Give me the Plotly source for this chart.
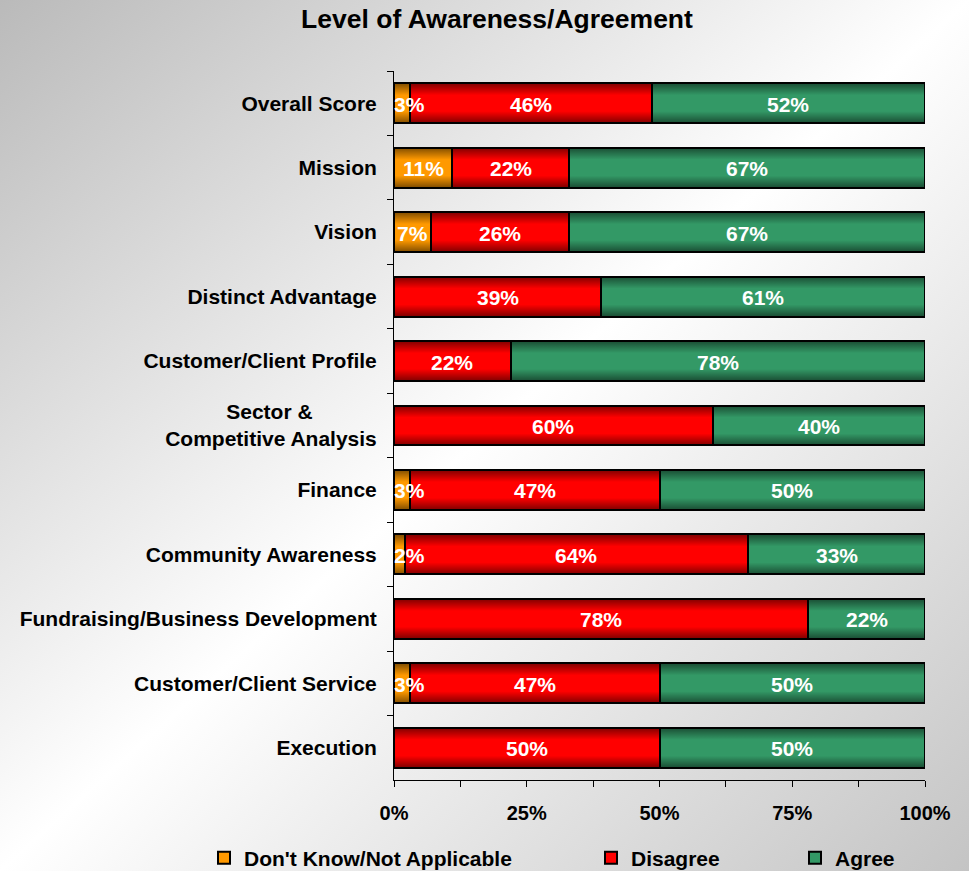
import base64
import plotly.graph_objects as go

# Survey rows, top to bottom
categories = [
    "Overall Score",
    "Mission",
    "Vision",
    "Distinct Advantage",
    "Customer/Client Profile",
    "Sector &" + "\u00a0" * 11 + "<br>Competitive Analysis",
    "Finance",
    "Community Awareness",
    "Fundraising/Business Development",
    "Customer/Client Service",
    "Execution",
]
dont_know = [3, 11, 7, 0, 0, 0, 3, 2, 0, 3, 0]
disagree = [46, 22, 26, 39, 22, 60, 47, 64, 78, 47, 50]
agree = [52, 67, 67, 61, 78, 40, 50, 33, 22, 50, 50]

x_tick_values = [0, 25, 50, 75, 100]
x_tick_labels = ["0%", "25%", "50%", "75%", "100%"]

FONT = "Liberation Sans, Arial, sans-serif"
W, H = 969, 871
ML, MR, MT, MB = 394, 44, 71, 91
PW, PH = W - ML - MR, H - MT - MB
BAR_WIDTH = 0.62
LABEL_SIZE = 21


def svg_uri(svg):
    return "data:image/svg+xml;base64," + base64.b64encode(svg.encode()).decode()


# Diagonal grey-white-grey page background
background = svg_uri(
    f'<svg xmlns="http://www.w3.org/2000/svg" width="{W}" height="{H}" '
    f'viewBox="0 0 {W} {H}" preserveAspectRatio="none"><defs>'
    '<linearGradient id="g" x1="0" y1="0" x2="1" y2="1">'
    '<stop offset="0" stop-color="#bababa"/>'
    '<stop offset="0.5" stop-color="#ffffff"/>'
    '<stop offset="1" stop-color="#c4c4c4"/>'
    f'</linearGradient></defs><rect width="{W}" height="{H}" fill="url(#g)"/></svg>'
)

# Shading that darkens the top and bottom edges of each bar
bar_shade = svg_uri(
    '<svg xmlns="http://www.w3.org/2000/svg" width="100" height="40" '
    'viewBox="0 0 100 40" preserveAspectRatio="none"><defs>'
    '<linearGradient id="s" x1="0" y1="0" x2="0" y2="1">'
    '<stop offset="0" stop-color="#000" stop-opacity="0.5"/>'
    '<stop offset="0.3" stop-color="#000" stop-opacity="0"/>'
    '<stop offset="0.7" stop-color="#000" stop-opacity="0"/>'
    '<stop offset="1" stop-color="#000" stop-opacity="0.5"/>'
    '</linearGradient></defs><rect width="100" height="40" fill="url(#s)"/></svg>'
)

series = [
    ("Don't Know/Not Applicable", dont_know, "#FF9900", "legend"),
    ("Disagree", disagree, "#FF0000", "legend2"),
    ("Agree", agree, "#339966", "legend3"),
]

fig = go.Figure()
for name, values, color, legend in series:
    fig.add_trace(
        go.Bar(
            y=categories,
            x=values,
            name=name,
            orientation="h",
            marker=dict(color=color, line=dict(color="#000000", width=2)),
            hoverinfo="skip",
            legend=legend,
        )
    )

# Segment labels sit above every bar; a label too wide for its segment
# starts at the segment's left edge instead of being centred on it
totals = [a + b + c for a, b, c in zip(dont_know, disagree, agree)]
px_per_pct = PW / 100.0
annotations = []
for row, cat in enumerate(categories):
    start = 0.0
    for _, values, _, _ in series:
        share = 100.0 * values[row] / totals[row]
        if values[row]:
            text = f"{values[row]}%"
            text_px = 0.62 * LABEL_SIZE * len(text)
            narrow = share * px_per_pct < text_px + 4
            annotations.append(
                dict(
                    x=start if narrow else start + share / 2,
                    y=cat,
                    xref="x",
                    yref="y",
                    text=text,
                    showarrow=False,
                    xanchor="left" if narrow else "center",
                    yanchor="middle",
                    xshift=-2 if narrow else 0,
                    yshift=-1,
                    font=dict(family=FONT, size=LABEL_SIZE, color="white", weight="bold"),
                )
            )
        start += share

images = [
    dict(
        source=background,
        xref="paper",
        yref="paper",
        x=-ML / PW,
        y=1 + MT / PH,
        sizex=W / PW,
        sizey=H / PH,
        xanchor="left",
        yanchor="top",
        sizing="stretch",
        layer="below",
    )
]
for cat in categories:
    images.append(
        dict(
            source=bar_shade,
            xref="x",
            yref="y",
            x=0,
            y=cat,
            sizex=100,
            sizey=BAR_WIDTH,
            xanchor="left",
            yanchor="middle",
            sizing="stretch",
            layer="above",
        )
    )

legend_font = dict(family=FONT, size=21, color="black", weight="bold")
legend_common = dict(
    orientation="h",
    xref="container",
    yref="container",
    yanchor="middle",
    y=1 - 858 / H,
    bgcolor="rgba(0,0,0,0)",
    font=legend_font,
    itemclick=False,
    itemdoubleclick=False,
)

fig.update_layout(
    width=W,
    height=H,
    margin=dict(l=ML, r=MR, t=MT, b=MB),
    paper_bgcolor="white",
    plot_bgcolor="rgba(0,0,0,0)",
    barmode="stack",
    barnorm="percent",
    bargap=1 - BAR_WIDTH,
    title=dict(
        text="Level of Awareness/Agreement",
        font=dict(family=FONT, size=26.5, color="black", weight="bold"),
        xref="container",
        x=497 / W,
        xanchor="center",
        yref="container",
        y=1 - 19 / H,
        yanchor="middle",
    ),
    xaxis=dict(
        range=[0, 100],
        tickvals=x_tick_values,
        ticktext=x_tick_labels,
        ticks="outside",
        ticklen=6,
        tickcolor="black",
        minor=dict(dtick=12.5, ticks="outside", ticklen=6, tickcolor="black"),
        showline=True,
        linecolor="black",
        linewidth=1,
        showgrid=False,
        zeroline=False,
        ticklabelstandoff=9,
        tickfont=dict(family=FONT, size=20, color="black", weight="bold"),
    ),
    yaxis=dict(
        type="category",
        categoryorder="array",
        categoryarray=categories,
        range=[len(categories) - 0.5, -0.5],
        tickson="boundaries",
        ticks="outside",
        ticklen=6,
        tickcolor="black",
        showline=True,
        linecolor="black",
        linewidth=1,
        showgrid=False,
        zeroline=False,
        ticklabelstandoff=12,
        tickfont=dict(family=FONT, size=21, color="black", weight="bold"),
    ),
    legend=dict(legend_common, x=(244 - 40) / W, xanchor="left"),
    legend2=dict(legend_common, x=(631 - 40) / W, xanchor="left"),
    legend3=dict(legend_common, x=(835 - 40) / W, xanchor="left"),
    images=images,
    annotations=annotations,
    showlegend=True,
)

fig.write_html("out.html")
